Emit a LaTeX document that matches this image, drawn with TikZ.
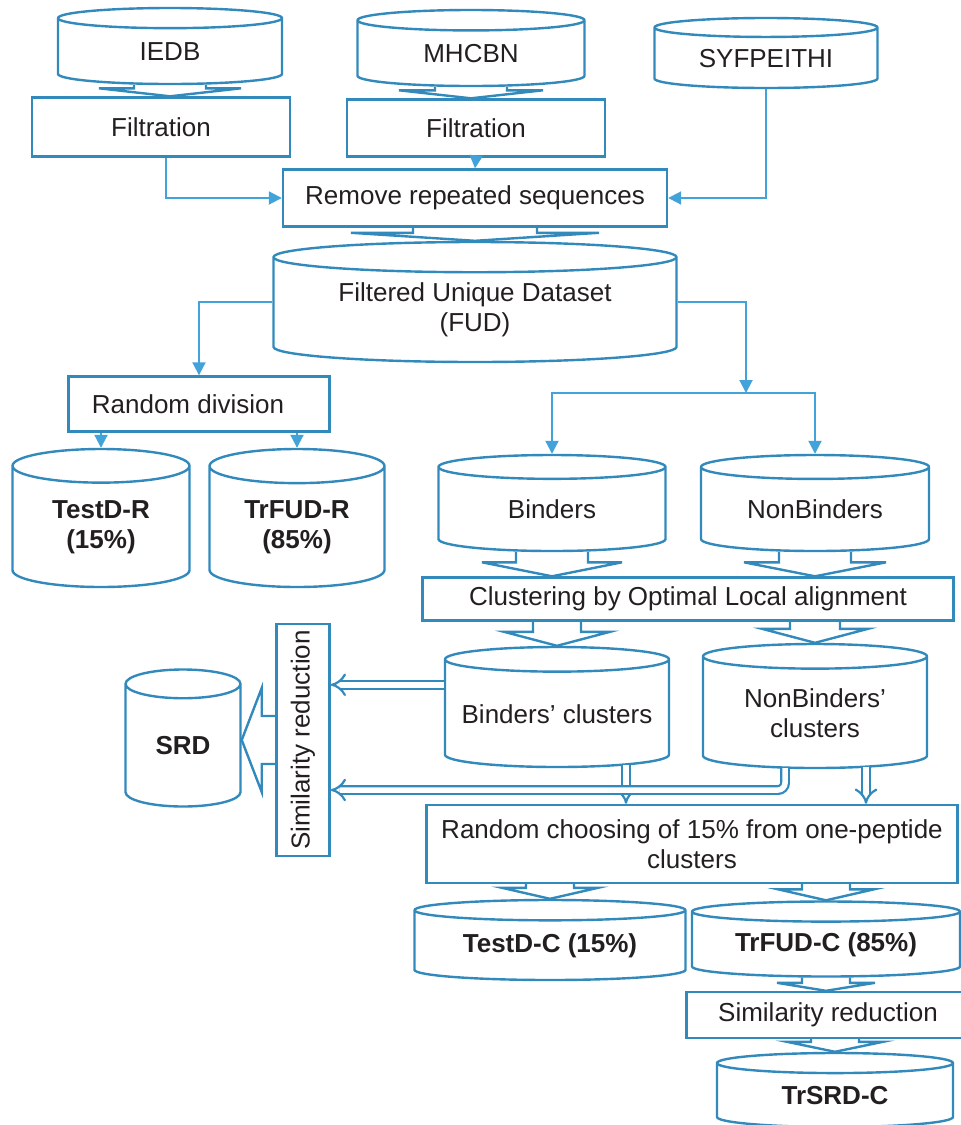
\documentclass[tikz,border=0pt]{standalone}
\usepackage{fontspec}
\setmainfont{Liberation Sans}
\usetikzlibrary{arrows.meta, positioning, shapes.geometric, calc}
\definecolor{boxblue}{RGB}{50,137,187}
\definecolor{lineblue}{RGB}{66,163,218}
\definecolor{txt}{RGB}{35,31,32}

% hollow block arrow pointing down: from, to, half shaft, half head, head length
\newcommand{\blockdown}[5]{%
  \draw[blockarr] let \p1=(#1), \p2=(#2) in
    (\x1-#3pt,\y1) -- (\x1-#3pt,\y2+#5pt) -- (\x1-#4pt,\y2+#5pt) -- (\x1,\y2)
    -- (\x1+#4pt,\y2+#5pt) -- (\x1+#3pt,\y2+#5pt) -- (\x1+#3pt,\y1);}
% hollow block arrow pointing left
\newcommand{\blockleft}[5]{%
  \draw[blockarr] let \p1=(#1), \p2=(#2) in
    (\x1,\y1+#3pt) -- (\x2+#5pt,\y1+#3pt) -- (\x2+#5pt,\y1+#4pt) -- (\x2,\y1)
    -- (\x2+#5pt,\y1-#4pt) -- (\x2+#5pt,\y1-#3pt) -- (\x1,\y1-#3pt);}

\begin{document}
\begin{tikzpicture}[x=1pt, y=-1pt,
    every node/.style={font=\fontsize{26}{30}\selectfont, text=txt},
    bold/.style={font=\fontsize{26}{30}\selectfont\bfseries},
    proc/.style={rectangle, draw=boxblue, line width=2.4pt, align=center, inner sep=0pt},
    store/.style={cylinder, shape border rotate=90, draw=boxblue, line width=2.4pt, align=flush center, inner sep=0pt, anchor=shape center},
    dims/.style n args={3}{text width=#1pt, minimum width=#1pt, minimum height=#2pt, aspect=#3},
    conn/.style={draw=lineblue, line width=2pt, -{Triangle[length=13pt, width=13pt]}},
    blockarr/.style={draw=boxblue, line width=2.4pt, line join=miter},
    dbl/.style={draw=boxblue, line width=2.2pt, double=white, double distance=5.5pt, -{Implies}}
]
\useasboundingbox (0,0) rectangle (961,1125);

% sources
\node[store, dims={224}{76}{0.09}] (iedb) at (170,46) {IEDB};
\node[store, dims={227}{76}{0.09}] (mhcbn) at (471,48) {MHCBN};
\node[store, dims={223}{70}{0.085}] (syf) at (766,53) {SYFPEITHI};
\node[proc, minimum width=258pt, minimum height=59pt] (filt1) at (161,127) {Filtration};
\node[proc, minimum width=258pt, minimum height=57pt] (filt2) at (476,128) {Filtration};
\node[proc, minimum width=384pt, minimum height=57pt] (remove) at (475,198) {Remove repeated sequences};
\node[store, dims={403}{120}{0.075}] (fud) at (475,302) {Filtered Unique Dataset\\(FUD)};

% random split
\node[proc, minimum width=261pt, minimum height=55pt] (randdiv) at (199,404) {Random division\hspace*{22pt}};
\node[store, bold, dims={177}{138}{0.19}] (testr) at (101,518) {TestD-R\\(15\%)};
\node[store, bold, dims={175}{138}{0.195}] (trfudr) at (297,518) {TrFUD-R\\(85\%)};

% cluster split
\node[store, dims={227}{96}{0.105}] (binders) at (552,503) {Binders};
\node[store, dims={228}{96}{0.105}] (nonbinders) at (815,503) {NonBinders};
\node[proc, minimum width=531pt, minimum height=43pt] (cluster) at (688,599) {Clustering by Optimal Local alignment};
\node[store, dims={224}{120}{0.11}] (bclus) at (557,707) {Binders’ clusters};
\node[store, dims={224}{124}{0.11}] (nbclus) at (815,706) {NonBinders’\\clusters};
\node[proc, minimum width=53pt, minimum height=232pt] (simvert) at (303,740) {\rotatebox{90}{Similarity reduction}};
\node[store, bold, dims={115}{137}{0.25}] (srd) at (183,738) {SRD};
\node[proc, minimum width=531pt, minimum height=78pt] (random) at (692,844) {Random choosing of 15\% from one-peptide\\clusters};
\node[store, bold, dims={271}{80}{0.075}] (testc) at (550,940) {TestD-C (15\%)};
\node[store, bold, dims={268}{75}{0.075}] (trfudc) at (826,939) {TrFUD-C (85\%)};
\node[proc, minimum width=283pt, minimum height=46pt] (simred) at (828,1015) {Similarity reduction};
\node[store, bold, dims={236}{74}{0.085}] (trsrd) at (835,1090) {TrSRD-C};

% block arrows
\blockdown{iedb.south}{filt1.north}{36}{71}{8}
\blockdown{mhcbn.south}{filt2.north}{36}{72}{8}
\blockdown{remove.south}{fud.north}{62}{124}{8}
\blockdown{binders.south}{cluster.north}{36}{70}{14}
\blockdown{nonbinders.south}{cluster.north}{36}{71}{14}
\blockdown{cluster.south -| bclus.north}{bclus.north}{24}{53}{14}
\blockdown{cluster.south -| nbclus.north}{nbclus.north}{25}{53}{14}
\blockdown{random.south -| testc.north}{testc.north}{24}{48}{11}
\blockdown{random.south -| trfudc.north}{trfudc.north}{24}{48}{11}
\blockdown{trfudc.south}{simred.north}{24}{49}{8}
\blockdown{simred.south -| trsrd.north}{trsrd.north}{24}{48}{10}
\blockleft{simvert.west}{srd.east}{24}{52}{20}

% thin connectors
\draw[conn] ([xshift=5pt]filt1.south) |- (remove.west);
\draw[conn] (filt2.south) -- (remove.north);
\draw[conn] (syf.south) |- (remove.east);
\draw[conn] (fud.shape center -| fud.west) -| (randdiv.north);
\draw[conn] (testr.north |- randdiv.south) -- (testr.north);
\draw[conn] (trfudr.north |- randdiv.south) -- (trfudr.north);
\coordinate (split) at (746,393);
\draw[conn] (fud.shape center -| fud.east) -| (split);
\draw[conn] (split) -| (binders.north);
\draw[conn] (split) -| (nonbinders.north);

% double arrows
\coordinate (bleft) at ([yshift=29pt]bclus.west);
\coordinate (bdrop) at ([xshift=69pt,yshift=3pt]bclus.south);
\coordinate (nbdrop) at ([xshift=51pt,yshift=2pt]nbclus.south);
\draw[dbl] (bleft) -- (bleft -| simvert.east);
\draw[dbl] (bdrop) -- (bdrop |- random.north);
\draw[dbl] (nbdrop) -- (nbdrop |- random.north);
\draw[dbl, rounded corners=7pt] ([xshift=-30pt,yshift=1pt]nbclus.south) |- ([yshift=-50pt]simvert.east);
\end{tikzpicture}
\end{document}
